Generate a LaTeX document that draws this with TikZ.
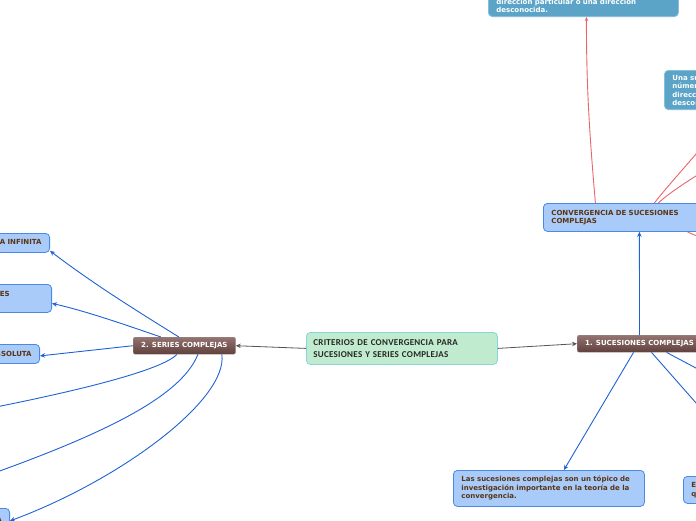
\documentclass[tikz,border=0pt]{standalone}
\usepackage{fontspec}
\usetikzlibrary{arrows.meta}
\newfontfamily\mapfont{DejaVu Sans}
\newfontfamily\rootfont[LetterSpace=3]{Carlito}
\definecolor{linkblue}{HTML}{1F62D4}
\definecolor{linkred}{HTML}{E8666B}
\definecolor{linkgrey}{HTML}{555555}
\definecolor{topicfill}{HTML}{A9CBFA}
\definecolor{topicline}{HTML}{4A8AE5}
\definecolor{topictext}{HTML}{5A3413}
\definecolor{notefill}{HTML}{5BA4C7}
\definecolor{noteline}{HTML}{86BEDB}
\definecolor{rootfill}{HTML}{C0EBCF}
\definecolor{rootline}{HTML}{85D6DA}
\definecolor{maintop}{HTML}{937471}
\definecolor{mainbot}{HTML}{5F403D}

\begin{document}
\begin{tikzpicture}[x=1pt, y=-1pt,
  topic/.style={draw=topicline, fill=topicfill, line width=0.8pt,
    rounded corners=4pt, text=topictext, align=left,
    font=\mapfont\bfseries\fontsize{7}{8.5}\selectfont,
    inner xsep=8pt, inner ysep=4pt},
  note/.style={topic, draw=noteline, fill=notefill, text=white},
  main/.style={draw=mainbot!60!white, top color=maintop, bottom color=mainbot,
    rounded corners=2pt, text=white, minimum height=17pt,
    font=\mapfont\bfseries\fontsize{7}{8.5}\selectfont, inner xsep=8pt},
  root/.style={draw=rootline, fill=rootfill, line width=0.8pt,
    rounded corners=4pt, text=black!85, align=left,
    font=\rootfont\bfseries\fontsize{9}{12}\selectfont, inner xsep=7pt},
  conn/.style={-{Stealth[length=5pt,width=4.5pt]}, linkblue, line width=0.9pt},
  redconn/.style={-{Stealth[length=4pt,width=3.5pt]}, linkred, line width=0.9pt},
  greyconn/.style={-{Stealth[length=5pt,width=4.5pt]}, linkgrey, line width=0.8pt},
]
  \useasboundingbox (0,0) rectangle (696,520);
  \clip (0,0) rectangle (696,520);
  \fill[white] (0,0) rectangle (696,520);

  % centre and main branches
  \node[root, anchor=north west, minimum width=191pt, minimum height=32pt,
    text width=177pt] (root) at (306,332)
    {CRITERIOS DE CONVERGENCIA PARA\\SUCESIONES Y SERIES COMPLEJAS};
  \node[main, anchor=north west] (suc) at (577,335) {1. SUCESIONES COMPLEJAS};
  \node[main, anchor=north west] (ser) at (133,337) {2. SERIES COMPLEJAS};

  % sucesiones
  \node[topic, anchor=north west, minimum width=192pt, minimum height=28pt,
    text width=176pt] (convsuc) at (543,203)
    {CONVERGENCIA DE SUCESIONES\\COMPLEJAS};
  \node[note, anchor=south west, text width=174pt] (limnote) at (488,17)
    {Una sucesión de números complejos\\puede converger a un límite en una\\dirección particular o una dirección\\desconocida.};
  \node[note, anchor=north west, text width=120pt] (dirnote) at (664,70)
    {Una sucesión de\\números complejos\\dirección particular\\desconocida.};
  \node[topic, anchor=north west, minimum width=191pt, minimum height=36pt,
    text width=175pt] (topico) at (453,470)
    {Las sucesiones complejas son un tópico de\\investigación importante en la teoría de la\\convergencia.};
  \node[topic, anchor=north west, minimum height=27pt, text width=150pt]
    (cauchy) at (683,476) {El criterio de Cauchy\\que converge};
  \coordinate (offsuc1) at (760,141);
  \coordinate (offsuc2) at (740,256);
  \coordinate (offsuc3) at (760,402);

  % series
  \node[topic, anchor=north east, minimum height=19pt] (infinita) at (50,233)
    {SERIE COMPLEJA INFINITA};
  \node[topic, anchor=north east, minimum height=28pt] (criterio) at (52,284)
    {CRITERIOS DE CONVERGENCIA DE SERIES\hspace*{34pt}\\COMPLEJAS};
  \node[topic, anchor=north east, minimum height=19pt] (absoluta) at (40,344)
    {CONVERGENCIA ABSOLUTA};
  \node[topic, anchor=north east, minimum height=19pt] (geometrica) at (10,508)
    {SERIE GEOMÉTRICA};
  \coordinate (offser1) at (-40,414);
  \coordinate (offser2) at (-40,485);

  % connectors
  \draw[greyconn] (root.east) -- (suc.west);
  \draw[greyconn] (root.west) -- (ser.east);

  \draw[conn] (suc.north) -- (convsuc.south);
  \draw[conn] ([xshift=-6pt]suc.south) -- ([xshift=15pt]topico.north);
  \draw[conn] ([xshift=12pt]suc.south) -- ([xshift=-6pt]cauchy.north);
  \draw[conn] ([xshift=27pt]suc.south) -- (offsuc3);

  \draw[redconn] ([xshift=-44pt]convsuc.north) .. controls +(-6,-70) and +(0,70) .. ([xshift=3pt]limnote.south);
  \draw[redconn] ([xshift=15pt]convsuc.north) .. controls +(15,-20) and +(-10,20) .. ([xshift=-3pt]dirnote.south);
  \draw[redconn] ([xshift=19pt]convsuc.north) .. controls +(15,-15) and +(-25,10) .. (offsuc1);
  \draw[redconn] ([xshift=48pt]convsuc.south) .. controls +(4,2) and +(-15,-8) .. (offsuc2);

  \draw[conn] ([xshift=-5.5pt]ser.north) .. controls +(-45,-28) and +(45,34) .. ([yshift=-8pt]infinita.east);
  \draw[conn] ([xshift=-23.5pt]ser.north) .. controls +(-35,-12) and +(35,8) .. ([yshift=-5pt]criterio.east);
  \draw[conn] (ser.west) -- ([yshift=-2pt]absoluta.east);
  \draw[conn] ([xshift=-7.5pt]ser.south) .. controls (160,372) and (60,395) .. (offser1);
  \draw[conn] ([xshift=13.5pt]ser.south) .. controls (180,400) and (90,440) .. (offser2);
  \draw[conn] ([xshift=37.5pt]ser.south) .. controls (228,400) and (120,480) .. ([yshift=-3pt]geometrica.east);
\end{tikzpicture}
\end{document}
